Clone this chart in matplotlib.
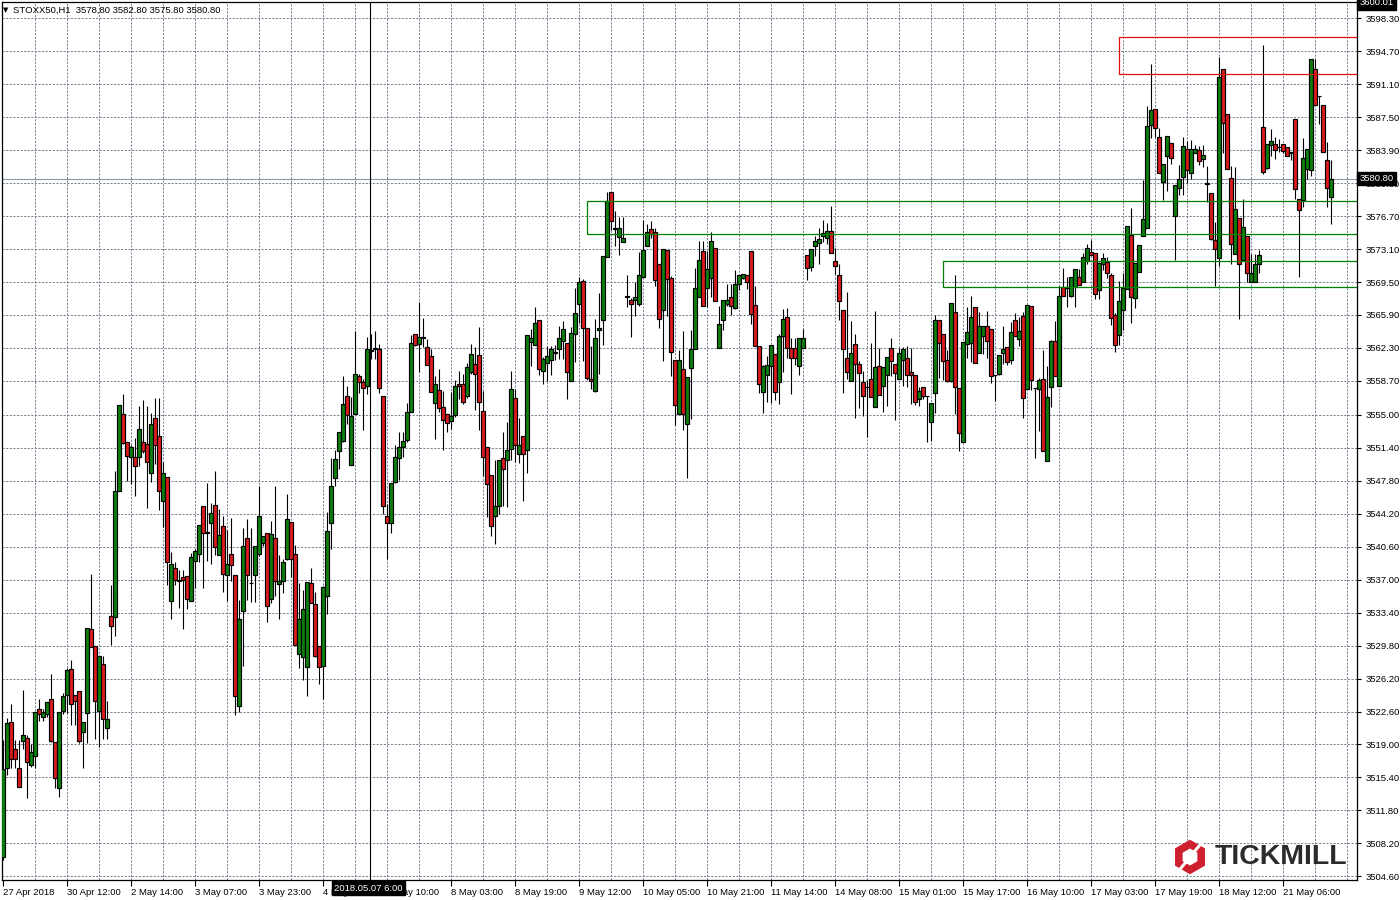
import matplotlib
matplotlib.use("Agg")
import matplotlib.pyplot as plt
from matplotlib.patches import Rectangle, Polygon
from matplotlib.transforms import blended_transform_factory
import numpy as np

# ---------------- data (STOXX50, H1) ----------------
opens = [
    3506.7, 3516.4, 3521.4, 3518.5, 3516.4, 3519.4, 3519.7, 3516.8, 3517.7, 3522.9,
    3522.0, 3522.3, 3524.0, 3519.3, 3514.3, 3522.7, 3524.4, 3527.2, 3524.4, 3524.8,
    3520.4, 3522.4, 3531.6, 3529.7, 3522.7, 3527.8, 3520.8, 3533.0, 3532.9, 3546.7,
    3555.1, 3552.0, 3550.4, 3550.4, 3550.4, 3552.0, 3551.8, 3548.6, 3554.7, 3552.7,
    3545.6, 3548.2, 3534.7, 3538.3, 3537.0, 3537.3, 3537.4, 3534.7, 3539.0, 3539.8,
    3545.0, 3542.2, 3543.2, 3545.2, 3539.7, 3542.9, 3537.5, 3539.8, 3537.5, 3523.2,
    3533.6, 3541.6, 3536.6, 3537.5, 3539.8, 3541.0, 3542.1, 3534.9, 3541.6, 3536.5,
    3536.8, 3539.2, 3543.3, 3539.8, 3528.9, 3528.5, 3527.5, 3536.6, 3534.3, 3529.7,
    3527.6, 3535.2, 3543.2, 3548.1, 3551.1, 3552.1, 3557.1, 3549.5, 3555.1, 3559.2,
    3558.6, 3558.2, 3562.0, 3562.2, 3562.2, 3557.1, 3544.0, 3543.2, 3547.7, 3550.3,
    3551.5, 3552.2, 3555.3, 3563.8, 3562.7, 3563.4, 3562.4, 3561.4, 3556.3, 3557.7,
    3555.8, 3555.1, 3554.3, 3555.0, 3558.4, 3558.4, 3557.1, 3559.7, 3560.5, 3561.5,
    3555.4, 3551.5, 3548.4, 3543.9, 3545.0, 3550.3, 3550.1, 3551.3, 3556.8, 3550.7,
    3552.7, 3551.2, 3563.0, 3562.6, 3565.4, 3559.8, 3560.7, 3561.0, 3561.8, 3562.2,
    3563.1, 3562.8, 3558.7, 3563.8, 3567.1, 3569.6, 3564.5, 3558.9, 3557.6, 3564.3,
    3565.3, 3572.2, 3579.3, 3575.3, 3574.4, 3573.9, 3567.9, 3567.5, 3567.5, 3567.1,
    3570.1, 3573.4, 3575.3, 3575.0, 3571.5, 3566.5, 3573.0, 3569.9, 3561.0, 3555.1,
    3560.0, 3554.0, 3560.1, 3562.2, 3567.9, 3572.9, 3568.9, 3569.9, 3573.2, 3562.3,
    3565.3, 3567.1, 3567.9, 3566.7, 3569.3, 3569.9, 3570.3, 3572.9, 3567.0, 3562.5,
    3557.5, 3559.3, 3560.3, 3561.6, 3558.6, 3563.6, 3565.7, 3562.3, 3562.3, 3560.3,
    3562.3, 3572.5, 3571.1, 3573.4, 3573.8, 3574.5, 3574.3, 3575.1, 3571.8, 3570.3,
    3566.4, 3561.2, 3558.7, 3562.7, 3560.5, 3558.6, 3558.0, 3558.9, 3555.9, 3560.3,
    3558.2, 3559.3, 3562.3, 3560.6, 3558.9, 3561.0, 3561.2, 3559.7, 3559.4, 3556.7,
    3558.0, 3557.0, 3554.2, 3557.4, 3565.3, 3563.8, 3561.0, 3558.7, 3566.2, 3557.9,
    3552.0, 3562.7, 3562.8, 3566.8, 3561.7, 3563.6, 3564.7, 3564.4, 3559.3, 3559.5,
    3561.8, 3562.4, 3561.0, 3565.3, 3563.3, 3565.8, 3557.8, 3566.9, 3557.9, 3557.8,
    3558.9, 3550.0, 3558.0, 3563.1, 3558.2, 3569.0, 3568.9, 3568.0, 3569.0, 3570.0,
    3569.5, 3571.8, 3572.8, 3572.7, 3568.6, 3571.5, 3571.7, 3570.3, 3565.9, 3563.7,
    3566.4, 3568.7, 3574.6, 3567.8, 3570.6, 3574.5, 3575.4, 3586.6, 3588.4, 3585.3,
    3580.4, 3583.3, 3584.7, 3576.7, 3579.8, 3581.0, 3584.0, 3581.4, 3583.6, 3583.9,
    3582.9, 3580.2, 3579.2, 3574.1, 3572.1, 3592.8, 3587.9, 3580.9, 3572.6, 3576.5,
    3571.9, 3574.5, 3569.5, 3569.5, 3571.5, 3586.4, 3581.9, 3584.5, 3584.6, 3584.2,
    3584.6, 3584.2, 3583.6, 3587.3, 3578.6, 3578.5, 3581.8, 3581.7, 3592.8, 3589.8,
    3588.8, 3582.8, 3578.8,
]
highs = [
    3519.5, 3521.9, 3523.4, 3519.5, 3519.5, 3525.0, 3520.0, 3519.1, 3522.6, 3524.0,
    3522.9, 3523.6, 3526.7, 3519.3, 3522.6, 3524.6, 3527.3, 3528.2, 3524.4, 3524.8,
    3521.4, 3531.7, 3537.6, 3529.7, 3528.7, 3528.7, 3523.7, 3536.4, 3548.9, 3556.1,
    3557.3, 3552.0, 3551.7, 3552.5, 3556.0, 3556.6, 3556.0, 3555.2, 3556.8, 3556.8,
    3549.8, 3548.2, 3540.0, 3538.9, 3538.0, 3538.0, 3537.4, 3539.9, 3540.4, 3543.0,
    3545.0, 3547.6, 3545.4, 3548.9, 3544.7, 3543.9, 3542.4, 3543.7, 3537.5, 3534.8,
    3542.6, 3543.6, 3542.6, 3540.7, 3547.2, 3541.8, 3542.1, 3543.4, 3547.2, 3539.7,
    3539.3, 3546.4, 3543.3, 3540.8, 3536.6, 3535.9, 3536.7, 3538.3, 3535.6, 3529.7,
    3536.3, 3544.4, 3550.3, 3551.2, 3553.1, 3559.2, 3558.1, 3556.9, 3564.2, 3559.5,
    3558.9, 3563.5, 3563.8, 3564.2, 3562.7, 3557.1, 3545.3, 3547.6, 3551.7, 3553.1,
    3553.1, 3556.3, 3563.7, 3563.8, 3567.3, 3565.6, 3563.3, 3562.2, 3559.2, 3560.0,
    3557.6, 3555.1, 3557.5, 3558.8, 3559.8, 3559.5, 3560.7, 3562.7, 3562.4, 3564.6,
    3557.6, 3551.5, 3548.4, 3550.1, 3550.1, 3553.1, 3554.2, 3559.8, 3557.8, 3554.7,
    3552.7, 3563.7, 3564.4, 3566.8, 3565.4, 3561.3, 3562.5, 3562.5, 3562.6, 3564.7,
    3565.2, 3562.8, 3564.6, 3568.9, 3570.0, 3569.8, 3564.5, 3562.5, 3565.5, 3568.3,
    3572.3, 3579.3, 3579.3, 3577.3, 3576.6, 3576.6, 3570.3, 3567.8, 3569.5, 3572.8,
    3576.3, 3575.8, 3576.2, 3575.4, 3571.5, 3573.1, 3573.0, 3570.2, 3561.0, 3562.1,
    3564.1, 3559.1, 3564.3, 3571.0, 3574.0, 3574.0, 3572.9, 3575.0, 3573.2, 3566.9,
    3567.5, 3569.3, 3569.3, 3570.8, 3570.3, 3570.4, 3570.3, 3572.9, 3569.1, 3562.5,
    3560.4, 3561.4, 3562.6, 3561.6, 3563.8, 3566.6, 3566.7, 3563.4, 3563.4, 3563.4,
    3564.4, 3572.5, 3573.1, 3574.5, 3575.4, 3576.3, 3575.9, 3577.8, 3573.2, 3571.5,
    3566.4, 3568.4, 3565.2, 3563.8, 3560.9, 3559.8, 3558.8, 3562.8, 3566.3, 3562.3,
    3560.2, 3561.3, 3563.4, 3560.6, 3562.3, 3562.4, 3562.5, 3562.3, 3559.4, 3558.0,
    3558.0, 3557.0, 3556.3, 3565.9, 3565.3, 3563.8, 3562.1, 3567.2, 3570.3, 3557.9,
    3563.0, 3566.8, 3568.0, 3566.8, 3566.2, 3564.7, 3566.3, 3564.4, 3559.3, 3561.5,
    3564.7, 3562.4, 3565.1, 3566.1, 3565.7, 3566.2, 3567.0, 3566.9, 3557.9, 3559.0,
    3562.1, 3560.3, 3563.2, 3565.2, 3569.1, 3571.0, 3570.0, 3570.0, 3570.9, 3570.9,
    3572.7, 3573.6, 3574.1, 3572.7, 3571.7, 3572.7, 3572.2, 3570.5, 3566.1, 3569.6,
    3570.5, 3575.6, 3577.6, 3571.6, 3573.5, 3580.6, 3588.7, 3593.3, 3588.4, 3586.3,
    3582.4, 3585.4, 3584.7, 3580.1, 3582.3, 3585.3, 3584.9, 3585.0, 3584.5, 3584.4,
    3584.5, 3582.2, 3579.2, 3576.1, 3594.1, 3592.8, 3587.9, 3582.2, 3582.1, 3576.5,
    3578.6, 3574.5, 3572.6, 3572.6, 3573.0, 3595.4, 3584.6, 3586.2, 3585.3, 3585.1,
    3584.6, 3584.2, 3583.7, 3587.3, 3578.6, 3585.2, 3584.0, 3593.9, 3593.9, 3589.8,
    3588.8, 3584.8, 3582.8,
]
lows = [
    3506.4, 3515.7, 3516.4, 3516.4, 3514.4, 3518.5, 3513.2, 3516.5, 3516.4, 3521.6,
    3521.6, 3522.0, 3519.3, 3514.3, 3513.3, 3522.3, 3522.4, 3521.1, 3521.1, 3519.2,
    3516.4, 3519.2, 3529.6, 3519.6, 3518.7, 3519.6, 3519.6, 3529.9, 3530.8, 3546.7,
    3551.8, 3547.8, 3547.4, 3546.1, 3549.4, 3550.8, 3544.8, 3547.7, 3549.6, 3544.6,
    3542.7, 3536.4, 3532.7, 3536.4, 3533.9, 3531.6, 3533.8, 3534.7, 3536.1, 3538.9,
    3536.1, 3539.0, 3538.7, 3539.7, 3539.7, 3535.7, 3534.7, 3536.8, 3522.2, 3522.5,
    3527.6, 3534.8, 3534.6, 3534.6, 3539.6, 3540.7, 3532.4, 3534.4, 3535.2, 3532.7,
    3535.5, 3539.1, 3537.3, 3529.9, 3527.4, 3526.0, 3524.3, 3534.4, 3528.6, 3525.6,
    3524.0, 3533.3, 3540.4, 3547.2, 3549.1, 3552.0, 3554.0, 3549.5, 3555.1, 3557.4,
    3553.3, 3557.3, 3561.1, 3561.1, 3557.4, 3544.2, 3539.3, 3542.1, 3547.6, 3547.9,
    3550.4, 3552.0, 3555.3, 3562.5, 3559.7, 3562.4, 3560.4, 3557.5, 3552.4, 3555.3,
    3551.2, 3553.1, 3553.4, 3554.8, 3556.7, 3556.2, 3556.8, 3559.5, 3555.5, 3553.3,
    3548.3, 3543.8, 3541.8, 3540.9, 3544.2, 3545.0, 3544.9, 3550.1, 3549.8, 3549.7,
    3545.6, 3548.7, 3560.3, 3562.6, 3559.4, 3558.4, 3558.7, 3559.3, 3561.0, 3561.1,
    3561.1, 3556.7, 3558.7, 3560.8, 3565.0, 3560.9, 3558.8, 3557.8, 3557.5, 3559.5,
    3562.6, 3572.2, 3575.2, 3573.4, 3572.4, 3573.9, 3566.8, 3563.5, 3565.8, 3566.9,
    3570.1, 3573.4, 3574.3, 3569.1, 3564.5, 3560.9, 3565.8, 3559.2, 3553.9, 3555.1,
    3553.3, 3548.1, 3554.5, 3562.2, 3567.9, 3566.9, 3566.8, 3567.9, 3567.4, 3562.3,
    3564.3, 3566.9, 3565.9, 3566.6, 3568.6, 3569.8, 3568.7, 3564.9, 3562.5, 3557.4,
    3555.2, 3556.4, 3556.3, 3556.6, 3556.2, 3559.7, 3561.2, 3557.3, 3560.4, 3559.3,
    3562.3, 3569.7, 3570.7, 3572.3, 3571.5, 3573.9, 3573.7, 3572.7, 3570.4, 3565.4,
    3557.4, 3558.9, 3558.7, 3554.6, 3555.7, 3554.9, 3552.6, 3556.9, 3555.9, 3557.2,
    3555.3, 3556.0, 3559.2, 3554.4, 3558.9, 3558.1, 3558.0, 3556.2, 3556.1, 3556.0,
    3556.7, 3552.0, 3552.1, 3555.2, 3559.0, 3558.8, 3558.6, 3558.6, 3555.1, 3551.1,
    3552.0, 3561.2, 3560.8, 3560.7, 3561.7, 3561.6, 3561.2, 3558.5, 3556.5, 3559.3,
    3560.5, 3560.4, 3560.5, 3563.6, 3562.5, 3554.7, 3557.8, 3557.7, 3550.3, 3553.2,
    3551.0, 3550.0, 3555.9, 3559.2, 3558.2, 3568.0, 3566.8, 3567.9, 3566.8, 3569.2,
    3569.5, 3571.5, 3572.5, 3567.7, 3567.7, 3570.8, 3569.9, 3564.8, 3561.9, 3562.6,
    3564.3, 3568.7, 3565.0, 3566.7, 3570.6, 3574.5, 3575.4, 3585.2, 3585.3, 3581.4,
    3578.5, 3579.4, 3582.4, 3571.9, 3579.0, 3579.0, 3580.3, 3580.8, 3583.6, 3582.3,
    3582.1, 3578.2, 3574.1, 3569.1, 3571.2, 3583.6, 3581.8, 3571.5, 3572.6, 3565.5,
    3571.9, 3569.5, 3569.5, 3569.5, 3570.5, 3581.3, 3581.8, 3583.3, 3582.9, 3583.7,
    3583.6, 3583.3, 3582.8, 3578.6, 3570.1, 3577.7, 3580.8, 3581.1, 3588.8, 3586.8,
    3583.7, 3577.7, 3575.8,
]
closes = [
    3516.3, 3521.3, 3517.4, 3517.4, 3514.4, 3520.0, 3517.1, 3518.2, 3522.6, 3522.3,
    3522.6, 3523.6, 3519.4, 3515.3, 3522.6, 3524.3, 3527.1, 3523.4, 3523.8, 3519.4,
    3521.4, 3531.7, 3529.6, 3523.7, 3528.7, 3521.8, 3521.8, 3531.9, 3546.7, 3556.1,
    3551.9, 3550.5, 3551.5, 3549.4, 3553.4, 3551.1, 3549.9, 3554.0, 3551.7, 3546.7,
    3548.7, 3538.9, 3538.7, 3537.0, 3536.9, 3537.0, 3534.9, 3539.5, 3540.1, 3543.0,
    3542.1, 3542.1, 3544.3, 3540.6, 3541.9, 3537.6, 3538.7, 3538.6, 3524.3, 3532.7,
    3540.7, 3537.5, 3536.6, 3540.7, 3544.0, 3541.8, 3534.1, 3542.0, 3536.9, 3536.9,
    3538.9, 3543.6, 3539.3, 3529.9, 3532.7, 3533.8, 3536.7, 3534.4, 3528.7, 3527.5,
    3536.2, 3542.3, 3547.2, 3550.2, 3553.1, 3556.2, 3555.0, 3554.9, 3559.5, 3558.6,
    3557.9, 3562.2, 3562.0, 3562.2, 3557.9, 3545.0, 3543.2, 3547.6, 3550.4, 3551.5,
    3552.1, 3555.3, 3562.8, 3562.6, 3563.5, 3563.4, 3560.4, 3557.5, 3558.4, 3555.7,
    3554.4, 3554.1, 3554.9, 3558.1, 3558.1, 3556.4, 3560.2, 3561.6, 3559.5, 3556.4,
    3550.4, 3547.4, 3542.9, 3545.0, 3550.1, 3549.1, 3551.2, 3557.8, 3551.7, 3551.7,
    3550.7, 3563.7, 3563.4, 3565.0, 3560.0, 3561.1, 3561.4, 3562.2, 3561.8, 3563.4,
    3564.4, 3559.7, 3563.9, 3566.1, 3569.5, 3564.5, 3559.0, 3558.7, 3563.4, 3564.5,
    3572.3, 3578.4, 3576.2, 3575.3, 3575.4, 3574.3, 3567.9, 3567.1, 3567.9, 3570.3,
    3573.0, 3575.0, 3574.7, 3569.7, 3565.5, 3573.1, 3569.8, 3561.9, 3556.1, 3561.0,
    3555.1, 3559.1, 3562.2, 3568.9, 3571.9, 3566.9, 3570.9, 3574.0, 3567.4, 3564.9,
    3567.5, 3567.5, 3566.9, 3569.3, 3570.3, 3570.4, 3569.5, 3566.0, 3562.5, 3558.4,
    3560.3, 3560.4, 3562.6, 3557.5, 3563.6, 3565.5, 3562.3, 3561.2, 3561.2, 3563.4,
    3563.4, 3571.0, 3573.1, 3574.0, 3574.2, 3574.9, 3575.1, 3572.7, 3571.2, 3567.4,
    3562.2, 3559.7, 3561.7, 3560.6, 3559.6, 3557.0, 3558.0, 3556.9, 3560.2, 3557.2,
    3560.2, 3561.3, 3560.9, 3559.6, 3561.8, 3562.2, 3559.3, 3559.3, 3556.4, 3557.6,
    3557.1, 3557.0, 3556.3, 3565.4, 3562.8, 3560.9, 3558.7, 3567.2, 3558.0, 3553.0,
    3563.0, 3564.0, 3565.7, 3560.7, 3564.7, 3564.7, 3563.1, 3559.2, 3559.3, 3561.5,
    3562.2, 3560.8, 3564.0, 3563.6, 3564.2, 3556.8, 3567.0, 3558.8, 3557.9, 3558.8,
    3551.0, 3556.9, 3563.1, 3559.2, 3568.0, 3568.0, 3569.0, 3570.0, 3570.9, 3569.2,
    3572.2, 3573.2, 3572.5, 3568.2, 3571.6, 3572.1, 3570.5, 3565.6, 3562.6, 3567.4,
    3568.9, 3575.6, 3567.9, 3571.6, 3573.5, 3576.4, 3586.5, 3588.3, 3586.3, 3581.4,
    3582.4, 3585.4, 3583.0, 3580.1, 3580.8, 3584.4, 3581.7, 3584.0, 3584.0, 3582.7,
    3583.4, 3580.2, 3574.2, 3573.1, 3591.9, 3586.9, 3581.8, 3573.6, 3577.5, 3571.5,
    3575.5, 3570.5, 3570.5, 3571.5, 3572.5, 3581.5, 3584.6, 3584.9, 3583.9, 3584.2,
    3583.8, 3583.3, 3583.6, 3579.7, 3577.4, 3583.0, 3584.0, 3593.9, 3588.8, 3589.8,
    3583.7, 3579.8, 3580.8,
]

xtick_labels = [
    "27 Apr 2018", "30 Apr 12:00", "2 May 14:00", "3 May 07:00", "3 May 23:00",
    "4 May 15:00", "7 May 10:00", "8 May 03:00", "8 May 19:00", "9 May 12:00",
    "10 May 05:00", "10 May 21:00", "11 May 14:00", "14 May 08:00", "15 May 01:00",
    "15 May 17:00", "16 May 10:00", "17 May 03:00", "17 May 19:00", "18 May 12:00",
    "21 May 06:00",
]
ytick_labels = [
    "3598.30", "3594.70", "3591.10", "3587.50", "3583.90", "3580.30", "3576.70",
    "3573.10", "3569.50", "3565.90", "3562.30", "3558.70", "3555.00", "3551.40",
    "3547.80", "3544.20", "3540.60", "3537.00", "3533.40", "3529.80", "3526.20",
    "3522.60", "3519.00", "3515.40", "3511.80", "3508.20", "3504.60",
]
title_text = "STOXX50,H1  3578,80 3582.80 3575.80 3580.80"
current_price = 3580.80
top_price = 3600.01
crosshair_bar = 91.8
crosshair_label = "2018.05.07 6:00"
# zones: (start bar, low, high)
red_zone = (279, 3592.2, 3596.3)
green_zone_1 = (146, 3574.7, 3578.4)
green_zone_2 = (235, 3569.0, 3571.8)

# ---------------- styling ----------------
GREEN = "#0c800c"
RED = "#dc1c1c"
GRID = "#76828f"
FONT = ["Liberation Sans", "DejaVu Sans"]
FS = 6.8

W, H = 1400, 900
L, R, T, B = 2, 1357, 2, 880

fig = plt.figure(figsize=(W / 100, H / 100), dpi=100)
fig.patch.set_facecolor("white")
ax = fig.add_axes([L / W, 1 - B / H, (R - L) / W, (B - T) / H])

o = np.array(opens)
h = np.array(highs)
l = np.array(lows)
c = np.array(closes)
n = len(o)
x = np.arange(n)
up = c >= o

ax.set_xlim(-0.25, 338.5)
ax.set_ylim(3504.2, 3600.08)

# grid
dash = (0, (2.2, 1.5))
for gx in range(8, n + 8, 8):
    ax.axvline(gx, color=GRID, lw=0.7, linestyle=dash, zorder=0)
ax.set_yticks([float(s) for s in ytick_labels])
ax.set_yticklabels(ytick_labels)
ax.grid(axis="y", color=GRID, lw=0.7, linestyle=dash, zorder=0)

# candles
ax.vlines(x, l, h, color="black", lw=0.8, zorder=3)
body_lo = np.minimum(o, c)
body_h = np.maximum(np.abs(c - o), 0.06)
ax.bar(x, body_h, bottom=body_lo, width=0.78,
       color=np.where(up, GREEN, RED), edgecolor="black", linewidth=0.85, zorder=4)

# zones
for (sb, lo, hi), col in [(red_zone, "#e01010"), (green_zone_1, "#008000"), (green_zone_2, "#008000")]:
    ax.add_patch(Rectangle((sb, lo), 400, hi - lo, fill=False, edgecolor=col,
                           lw=0.9, zorder=5))

# current price line and crosshair
ax.axhline(current_price, color="#8a98a8", lw=0.8, zorder=2)
ax.axvline(crosshair_bar, color="black", lw=0.8, zorder=6)

# axes / ticks
for s in ax.spines.values():
    s.set_color("black")
    s.set_linewidth(0.9)
ax.yaxis.tick_right()
ax.tick_params(axis="y", direction="out", length=3, width=0.8, pad=3,
               labelsize=FS, colors="black", left=False, labelleft=False)
ax.set_xticks(list(range(0, n, 16))[:len(xtick_labels)])
ax.set_xticklabels(xtick_labels, ha="left")
ax.tick_params(axis="x", direction="out", length=4, width=0.8, pad=1.5,
               labelsize=FS, colors="black")
for lab in ax.get_xticklabels() + ax.get_yticklabels():
    lab.set_family(FONT)

# right-axis price boxes
tr_y = blended_transform_factory(ax.transAxes, ax.transData)
for val, txt in [(current_price, "3580.80"), (top_price, "3600.01")]:
    ax.text(1.0018, val, txt, transform=tr_y, ha="left", va="center",
            fontsize=FS, family=FONT, color="white", clip_on=False, zorder=20,
            bbox=dict(boxstyle="square,pad=0.25", facecolor="black", edgecolor="black"))

# crosshair time box
tr_x = blended_transform_factory(ax.transData, ax.transAxes)
ax.text(crosshair_bar - 0.4, -0.0095, crosshair_label, transform=tr_x, ha="center", va="center",
        fontsize=FS, family=FONT, color="white", clip_on=False, zorder=20,
        bbox=dict(boxstyle="square,pad=0.25", facecolor="black", edgecolor="black"))

# overlay (pixel coordinates) for title and logo
ov = fig.add_axes([0, 0, 1, 1], facecolor="none")
ov.set_xlim(0, W)
ov.set_ylim(H, 0)
ov.axis("off")
ov.set_zorder(10)

ov.text(3, 10.5, "\u25BC", fontsize=5, family=["DejaVu Sans"], va="center", ha="left", color="black")
ov.text(13, 10.5, title_text, fontsize=FS, family=FONT, va="center", ha="left", color="black")

# Tickmill logo
cx, cy, Rr = 1190, 857, 17.3
ang = np.deg2rad([90, 150, 210, 270, 330, 30])
outer = np.c_[cx + Rr * np.cos(ang), cy - Rr * np.sin(ang)]
inner = np.c_[cx + 8.5 * np.cos(ang), cy - 8.5 * np.sin(ang)]
ov.add_patch(Polygon(outer, closed=True, facecolor="#cf2030", edgecolor="none"))
ov.add_patch(Polygon(inner, closed=True, facecolor="white", edgecolor="none"))
ov.plot([cx - 4, cx - 14], [cy + 5, cy + 17], color="white", lw=2.2, solid_capstyle="butt")
ov.plot([cx + 4, cx + 14], [cy - 5, cy - 17], color="white", lw=2.2, solid_capstyle="butt")
ov.text(1215, 857, "TICKMILL", fontsize=20.5, fontweight="bold", family=FONT,
        color="#2b2b2b", va="center", ha="left")

fig.savefig("out.png", dpi=100, facecolor="white")
